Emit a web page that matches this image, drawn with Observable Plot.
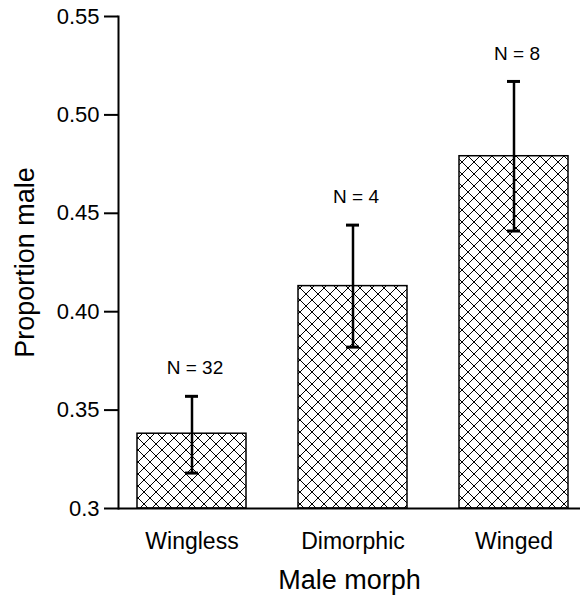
<!DOCTYPE html>
<html>
<head>
<meta charset="utf-8">
<script src="https://cdn.jsdelivr.net/npm/d3@7"></script>
<script src="https://cdn.jsdelivr.net/npm/@observablehq/plot@0.6"></script>
<style>
  html, body { margin: 0; padding: 0; background: #fff; }
  #chart svg { font-family: "Liberation Sans", Arial, Helvetica, sans-serif; }
</style>
</head>
<body>
<div id="chart"></div>
<script>
const categories = ["Wingless", "Dimorphic", "Winged"];
const means = [0.338, 0.413, 0.479];
const lower = [0.318, 0.382, 0.441];
const upper = [0.357, 0.444, 0.517];
const nLabels = ["N = 32", "N = 4", "N = 8"];
const yTicks = [0.3, 0.35, 0.4, 0.45, 0.5, 0.55];
const yTickLabels = ["0.3", "0.35", "0.40", "0.45", "0.50", "0.55"];
const yTitle = "Proportion male";
const xTitle = "Male morph";

const data = categories.map((c, i) => ({
  cat: c, mean: means[i], lo: lower[i], hi: upper[i], n: nLabels[i]
}));

const chart = Plot.plot({
  width: 580,
  height: 595,
  marginLeft: 118,
  marginRight: 0,
  marginTop: 16,
  marginBottom: 87,
  style: { background: "white", color: "black", overflow: "visible" },
  x: { domain: categories, paddingInner: 0.325, paddingOuter: 0.093, align: 0.6, axis: null },
  y: { domain: [0.3, 0.55], axis: null },
  marks: [
    Plot.barY(data, { x: "cat", y1: () => 0.3, y2: "mean", fill: "url(#hatch)", stroke: "black", strokeWidth: 1.5 }),
    Plot.ruleX(data, { x: "cat", y1: "lo", y2: "hi", stroke: "black", strokeWidth: 2.5 }),
    Plot.tickY(data, { x: "cat", y: "hi", stroke: "black", strokeWidth: 3, insetLeft: 48, insetRight: 48 }),
    Plot.tickY(data, { x: "cat", y: "lo", stroke: "black", strokeWidth: 3, insetLeft: 48, insetRight: 48 }),
    Plot.text(data, { x: "cat", y: "hi", text: "n", dy: -28, dx: 3, fontSize: 19, fill: "black" }),
    Plot.ruleY([0.3], { stroke: "black", strokeWidth: 2 }),
    Plot.frame({ anchor: "left", stroke: "black", strokeWidth: 2 }),
    Plot.axisY({ ticks: yTicks, tickFormat: d => yTickLabels[yTicks.indexOf(d)], tickSize: 14, tickPadding: 5, strokeWidth: 2, fontSize: 22, label: null }),
    Plot.axisX({ tickSize: 0, tickPadding: 24, fontSize: 23, label: null }),
    Plot.text([yTitle], { frameAnchor: "left", dx: -93, rotate: -90, textAnchor: "middle", lineAnchor: "middle", fontSize: 27, fill: "black" }),
    Plot.text([xTitle], { frameAnchor: "bottom", dy: 72, textAnchor: "middle", lineAnchor: "middle", fontSize: 27, fill: "black" })
  ]
});

const svgNS = "http://www.w3.org/2000/svg";
const svg = chart.tagName.toLowerCase() === "svg" ? chart : chart.querySelector("svg");
const defs = document.createElementNS(svgNS, "defs");
const pattern = document.createElementNS(svgNS, "pattern");
pattern.setAttribute("id", "hatch");
pattern.setAttribute("patternUnits", "userSpaceOnUse");
pattern.setAttribute("width", "12");
pattern.setAttribute("height", "12");
const bg = document.createElementNS(svgNS, "rect");
bg.setAttribute("width", "12");
bg.setAttribute("height", "12");
bg.setAttribute("fill", "white");
const path = document.createElementNS(svgNS, "path");
path.setAttribute("d", "M0,0L12,12M12,0L0,12");
path.setAttribute("stroke", "black");
path.setAttribute("stroke-width", "1");
pattern.appendChild(bg);
pattern.appendChild(path);
defs.appendChild(pattern);
svg.insertBefore(defs, svg.firstChild);

document.getElementById("chart").appendChild(chart);
</script>
</body>
</html>
